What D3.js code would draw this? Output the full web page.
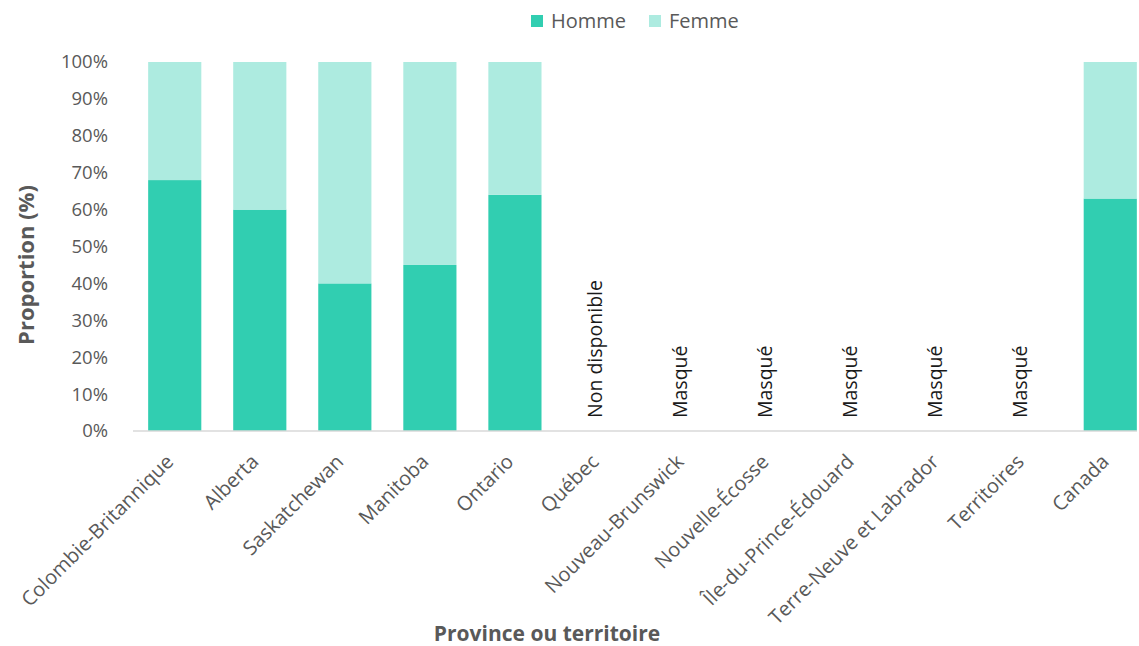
<!DOCTYPE html>
<html>
<head>
<meta charset="utf-8">
<script src="https://cdn.jsdelivr.net/npm/d3@7"></script>
<style>
  html, body { margin: 0; padding: 0; background: #ffffff; }
  svg { display: block; font-family: "Open Sans", sans-serif; }
</style>
</head>
<body>
<svg id="chart" width="1139" height="646"></svg>
<script>
// Provinces / territories along the x axis
const categories = [
  "Colombie-Britannique", "Alberta", "Saskatchewan", "Manitoba", "Ontario",
  "Québec", "Nouveau-Brunswick", "Nouvelle-Écosse", "Île-du-Prince-Édouard",
  "Terre-Neuve et Labrador", "Territoires", "Canada"
];
// Share of men and women (%); null where no figure is published
const homme = [68, 60, 40, 45, 64, null, null, null, null, null, null, 63];
const femme = [32, 40, 60, 55, 36, null, null, null, null, null, null, 37];
// Notes shown in place of missing bars
const notes = [null, null, null, null, null, "Non disponible", "Masqué", "Masqué", "Masqué", "Masqué", "Masqué", null];
const seriesNames = ["Homme", "Femme"];
const yTicks = [0, 10, 20, 30, 40, 50, 60, 70, 80, 90, 100];

const colors = { Homme: "#31CEB1", Femme: "#ADEBE0" };
const textColor = "#595959";

const svg = d3.select("#chart");
const margin = { left: 132, right: -14, top: 62, bottom: 215 };
const W = 1139, H = 646;

const x = d3.scaleBand()
  .domain(categories)
  .range([margin.left, W - margin.right])
  .paddingInner(0.375)
  .paddingOuter(0.19);

const y = d3.scaleLinear().domain([0, 100]).range([H - margin.bottom, margin.top]);

const rows = categories.map((c, i) => ({ cat: c, Homme: homme[i] || 0, Femme: femme[i] || 0 }));
const stacked = d3.stack().keys(seriesNames)(rows);

// Y axis tick labels
const yAxis = svg.append("g")
  .attr("transform", `translate(${margin.left - 21},0)`)
  .call(d3.axisLeft(y).tickValues(yTicks).tickFormat(d => d + "%").tickSize(0));
yAxis.select(".domain").remove();
yAxis.selectAll("text")
  .attr("fill", textColor)
  .style("font-size", "18.5px")
  .style("font-family", "'Open Sans', sans-serif");

// Stacked bars
svg.append("g").selectAll("g")
  .data(stacked)
  .join("g")
  .attr("fill", d => colors[d.key])
  .selectAll("rect")
  .data(d => d.filter(s => s[1] - s[0] > 0))
  .join("rect")
  .attr("x", d => x(d.data.cat))
  .attr("width", x.bandwidth())
  .attr("y", d => y(d[1]))
  .attr("height", d => y(d[0]) - y(d[1]));

// Baseline
svg.append("line")
  .attr("x1", margin.left + 1).attr("x2", 1137)
  .attr("y1", y(0)).attr("y2", y(0))
  .attr("stroke", "#d9d9d9").attr("stroke-width", 1.5);

// Notes for missing values
svg.append("g").selectAll("text")
  .data(categories.map((c, i) => ({ cat: c, note: notes[i] })).filter(d => d.note))
  .join("text")
  .attr("transform", d => `translate(${x(d.cat) + x.bandwidth() / 2 + 2},${y(0) - 13}) rotate(-90)`)
  .attr("text-anchor", "start")
  .attr("fill", "#1a1a1a")
  .style("font-size", "19.5px")
  .text(d => d.note);

// X axis category labels
svg.append("g").selectAll("text")
  .data(categories)
  .join("text")
  .attr("transform", d => `translate(${x(d) + x.bandwidth() / 2 - 5},${y(0) + 27}) rotate(-45)`)
  .attr("text-anchor", "end")
  .attr("dy", "0.35em")
  .attr("fill", textColor)
  .style("font-size", "20px")
  .text(d => d);

// Axis titles
svg.append("text")
  .attr("transform", `translate(34,265) rotate(-90)`)
  .attr("text-anchor", "middle")
  .attr("fill", textColor)
  .style("font-size", "22px").style("font-weight", "bold")
  .text("Proportion (%)");

svg.append("text")
  .attr("x", 547).attr("y", 641)
  .attr("text-anchor", "middle")
  .attr("fill", textColor)
  .style("font-size", "21px").style("font-weight", "bold")
  .text("Province ou territoire");

// Legend
const legend = svg.append("g");
const legendItems = [{ name: "Homme", x: 531 }, { name: "Femme", x: 649 }];
legendItems.forEach(it => {
  legend.append("rect")
    .attr("x", it.x).attr("y", 15).attr("width", 12).attr("height", 12)
    .attr("fill", colors[it.name]);
  legend.append("text")
    .attr("x", it.x + 20).attr("y", 28)
    .attr("fill", textColor)
    .style("font-size", "20px")
    .text(it.name);
});
</script>
</body>
</html>
